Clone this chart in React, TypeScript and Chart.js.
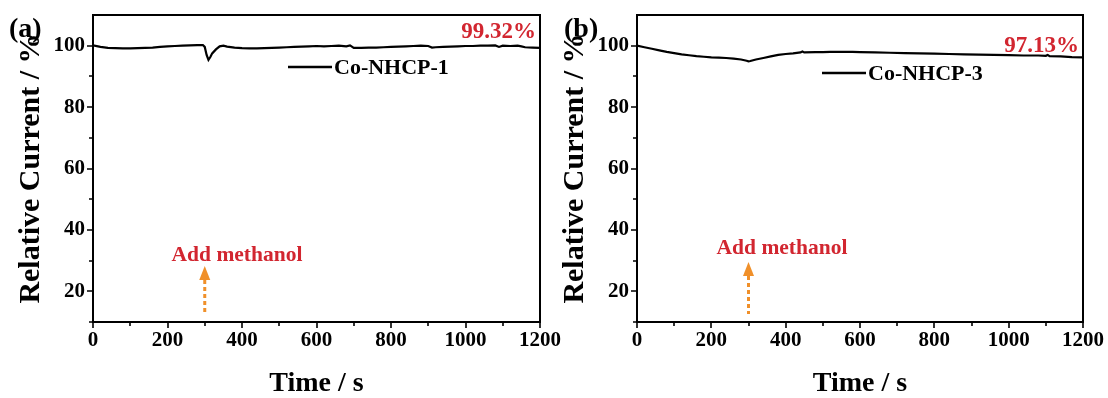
import React, { useEffect, useRef } from "react";
import { Chart, registerables } from "chart.js";

Chart.register(...registerables);

// ---------- data ----------
const timeA = [0, 20, 40, 60, 80, 100, 120, 140, 160, 180, 200, 220, 240, 260, 280, 295, 300, 305, 310, 315, 320, 330, 340, 350, 360, 380, 400, 420, 440, 460, 480, 500, 520, 540, 560, 580, 600, 620, 640, 660, 680, 690, 700, 720, 740, 760, 780, 800, 820, 840, 860, 880, 900, 910, 920, 940, 960, 980, 1000, 1020, 1040, 1060, 1080, 1090, 1100, 1120, 1140, 1150, 1160, 1180, 1200];
const currentA = [100.1, 99.6, 99.3, 99.2, 99.1, 99.1, 99.2, 99.3, 99.4, 99.6, 99.8, 99.9, 100.0, 100.1, 100.2, 100.2, 99.6, 97.0, 95.4, 96.3, 97.5, 98.8, 99.8, 100.0, 99.7, 99.4, 99.2, 99.1, 99.1, 99.2, 99.3, 99.4, 99.5, 99.6, 99.7, 99.8, 99.9, 99.8, 99.9, 100.0, 99.8, 100.1, 99.3, 99.3, 99.4, 99.4, 99.5, 99.6, 99.7, 99.8, 99.9, 100.0, 99.9, 99.4, 99.5, 99.6, 99.7, 99.8, 99.9, 99.9, 100.0, 100.0, 100.1, 99.6, 100.0, 99.9, 100.0, 99.8, 99.5, 99.4, 99.3];

const timeB = [0, 20, 40, 60, 80, 100, 120, 140, 160, 180, 200, 220, 240, 260, 280, 295, 300, 305, 310, 320, 340, 360, 380, 400, 420, 440, 445, 450, 480, 500, 520, 540, 560, 580, 600, 640, 680, 720, 760, 800, 840, 880, 920, 960, 1000, 1040, 1080, 1100, 1105, 1110, 1140, 1170, 1200];
const currentB = [100.0, 99.5, 99.0, 98.5, 98.0, 97.6, 97.2, 96.9, 96.6, 96.4, 96.2, 96.1, 96.0, 95.8, 95.5, 95.1, 94.9, 95.0, 95.2, 95.5, 96.0, 96.5, 97.0, 97.3, 97.5, 97.8, 98.1, 97.8, 97.9, 97.9, 98.0, 98.0, 98.0, 98.0, 97.9, 97.8, 97.7, 97.6, 97.5, 97.4, 97.3, 97.2, 97.1, 97.0, 96.9, 96.8, 96.8, 96.7, 97.0, 96.6, 96.5, 96.3, 96.2];

const xTickValues = [0, 200, 400, 600, 800, 1000, 1200];
const xMinorValues = [100, 300, 500, 700, 900, 1100];
const yTickValues = [20, 40, 60, 80, 100];
const yMinorValues = [10, 30, 50, 70, 90];

const seriesNames = ["Co-NHCP-1", "Co-NHCP-3"];
const retentionLabels = ["99.32%", "97.13%"];
const panelLabels = ["(a)", "(b)"];
const eventLabel = "Add methanol";
const eventTime = 300;

const xTitle = "Time / s";
const yTitle = "Relative Current / %";

// ---------- styles ----------
const FONT = "'Liberation Serif', 'Times New Roman', serif";
const RED = "#d22630";
const ORANGE = "#f0902a";

type PanelCfg = {
  times: number[];
  values: number[];
  name: string;
  retention: string;
  label: string;
  left: number;
  width: number;
  padRight: number;
  labelX: number;
  retentionY: number;
  legendX: number;
  legendY: number;
  eventTextX: number;
  eventTextY: number;
  arrowTipY: number;
};

const panels: PanelCfg[] = [
  {
    times: timeA, values: currentA, name: seriesNames[0], retention: retentionLabels[0], label: panelLabels[0],
    left: 0, width: 580, padRight: 40, labelX: 9, retentionY: 23, legendX: 195, legendY: 52,
    eventTextX: 144, eventTextY: 240, arrowTipY: 251,
  },
  {
    times: timeB, values: currentB, name: seriesNames[1], retention: retentionLabels[1], label: panelLabels[1],
    left: 544, width: 564, padRight: 25, labelX: 20, retentionY: 37, legendX: 185, legendY: 58,
    eventTextX: 145, eventTextY: 233, arrowTipY: 247,
  },
];

function makeDecorPlugin(cfg: PanelCfg) {
  return {
    id: "decor",
    afterDraw(chart: any) {
      const ctx = chart.ctx as CanvasRenderingContext2D;
      const { left, right, top, bottom } = chart.chartArea;
      const xs = chart.scales.x;
      const ys = chart.scales.y;
      ctx.save();
      // frame
      ctx.strokeStyle = "#000";
      ctx.lineWidth = 2;
      ctx.strokeRect(left, top, right - left, bottom - top);
      // ticks
      ctx.lineWidth = 1.6;
      ctx.beginPath();
      xTickValues.forEach((v) => {
        const p = Math.round(xs.getPixelForValue(v));
        ctx.moveTo(p, bottom); ctx.lineTo(p, bottom + 6);
      });
      xMinorValues.forEach((v) => {
        const p = Math.round(xs.getPixelForValue(v));
        ctx.moveTo(p, bottom); ctx.lineTo(p, bottom + 4);
      });
      yTickValues.forEach((v) => {
        const p = Math.round(ys.getPixelForValue(v));
        ctx.moveTo(left, p); ctx.lineTo(left - 6, p);
      });
      yMinorValues.forEach((v) => {
        const p = Math.round(ys.getPixelForValue(v));
        ctx.moveTo(left, p); ctx.lineTo(left - 4, p);
      });
      ctx.stroke();

      // panel label
      ctx.fillStyle = "#000";
      ctx.font = `bold 28px ${FONT}`;
      ctx.textAlign = "left";
      ctx.textBaseline = "alphabetic";
      ctx.fillText(cfg.label, cfg.labelX, 37);

      // retention label
      ctx.fillStyle = RED;
      ctx.font = `bold 23px ${FONT}`;
      ctx.textAlign = "right";
      ctx.fillText(cfg.retention, right - 4, top + cfg.retentionY);

      // legend
      ctx.strokeStyle = "#000";
      ctx.lineWidth = 2.5;
      ctx.beginPath();
      ctx.moveTo(left + cfg.legendX, top + cfg.legendY);
      ctx.lineTo(left + cfg.legendX + 44, top + cfg.legendY);
      ctx.stroke();
      ctx.fillStyle = "#000";
      ctx.font = `bold 22px ${FONT}`;
      ctx.textAlign = "left";
      ctx.textBaseline = "middle";
      ctx.fillText(cfg.name, left + cfg.legendX + 46, top + cfg.legendY + 1);

      // event annotation
      ctx.fillStyle = RED;
      ctx.font = `bold 21.5px ${FONT}`;
      ctx.textAlign = "center";
      ctx.fillText(eventLabel, left + cfg.eventTextX, top + cfg.eventTextY);

      const ax = xs.getPixelForValue(eventTime);
      const tip = top + cfg.arrowTipY;
      ctx.fillStyle = ORANGE;
      ctx.beginPath();
      ctx.moveTo(ax, tip);
      ctx.lineTo(ax - 5.5, tip + 14);
      ctx.lineTo(ax + 5.5, tip + 14);
      ctx.closePath();
      ctx.fill();
      ctx.strokeStyle = ORANGE;
      ctx.lineWidth = 3;
      ctx.setLineDash([4, 3]);
      ctx.beginPath();
      ctx.moveTo(ax, tip + 14);
      ctx.lineTo(ax, bottom - 8);
      ctx.stroke();
      ctx.setLineDash([]);
      ctx.restore();
    },
  };
}

function Panel({ cfg }: { cfg: PanelCfg }) {
  const ref = useRef<HTMLCanvasElement | null>(null);
  useEffect(() => {
    if (!ref.current) return;
    const chart = new Chart(ref.current, {
      type: "line",
      data: {
        datasets: [
          {
            label: cfg.name,
            data: cfg.times.map((t, i) => ({ x: t, y: cfg.values[i] })),
            borderColor: "#000",
            borderWidth: 2.2,
            pointRadius: 0,
            tension: 0,
            fill: false,
          },
        ],
      },
      options: {
        animation: false,
        responsive: false,
        devicePixelRatio: 1,
        layout: { padding: { left: 0, right: cfg.padRight, top: 15, bottom: 0 } },
        plugins: { legend: { display: false }, tooltip: { enabled: false } },
        scales: {
          x: {
            type: "linear",
            min: 0,
            max: 1200,
            grid: { display: false, drawTicks: false },
            border: { display: false },
            afterBuildTicks: (s: any) => { s.ticks = xTickValues.map((v) => ({ value: v })); },
            afterFit: (s: any) => { s.height = 76; s.paddingLeft = 0; s.paddingRight = 0; },
            ticks: {
              color: "#000",
              font: { family: FONT, size: 21, weight: "bold" },
              padding: 6,
              maxRotation: 0,
              autoSkip: false,
              callback: (v: any) => String(v),
            },
            title: {
              display: true,
              text: xTitle,
              color: "#000",
              font: { family: FONT, size: 28, weight: "bold", lineHeight: 1 },
              padding: { top: 0, bottom: 0 },
            },
          },
          y: {
            type: "linear",
            min: 10,
            max: 110,
            grid: { display: false, drawTicks: false },
            border: { display: false },
            afterBuildTicks: (s: any) => { s.ticks = yTickValues.map((v) => ({ value: v })); },
            afterFit: (s: any) => { s.width = 93; s.paddingTop = 0; s.paddingBottom = 0; },
            ticks: {
              color: "#000",
              font: { family: FONT, size: 21, weight: "bold" },
              padding: 8,
              autoSkip: false,
              callback: (v: any) => String(v),
            },
            title: {
              display: true,
              text: yTitle,
              color: "#000",
              font: { family: FONT, size: 30, weight: "bold" },
              padding: { top: 13, bottom: 0 },
            },
          },
        },
      },
      plugins: [makeDecorPlugin(cfg)],
    } as any);
    return () => chart.destroy();
  }, [cfg]);
  return (
    <canvas
      ref={ref}
      width={cfg.width}
      height={398}
      style={{ position: "absolute", left: cfg.left, top: 0, width: cfg.width, height: 398 }}
    />
  );
}

export default function App() {
  return (
    <div style={{ position: "absolute", left: 0, top: 0, width: 1108, height: 398, background: "#fff", overflow: "hidden" }}>
      {panels.map((p) => (
        <Panel key={p.label} cfg={p} />
      ))}
    </div>
  );
}
